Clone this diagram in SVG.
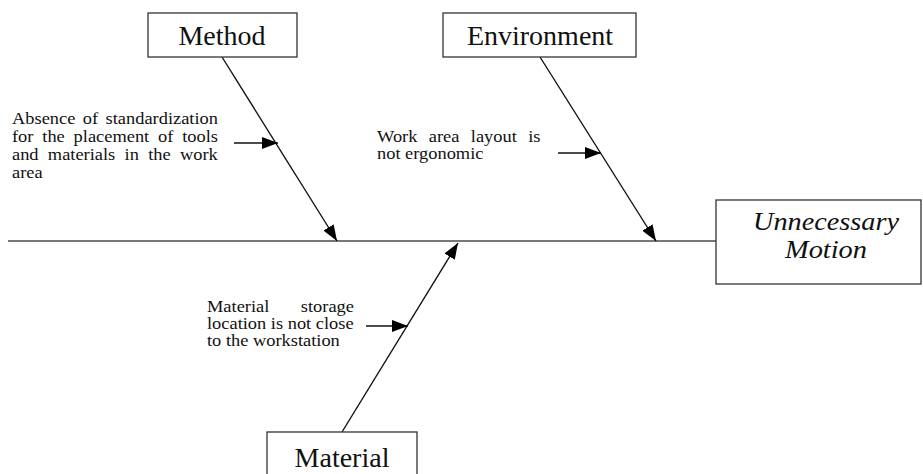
<svg xmlns="http://www.w3.org/2000/svg" width="923" height="474" viewBox="0 0 923 474">
  <style>
    .box { fill: #ffffff; stroke: #333333; stroke-width: 1.3; }
    .title { font-family: "Liberation Serif", "Times New Roman", serif; font-size: 28px; fill: #111111; text-anchor: middle; }
    .effect { font-family: "Liberation Serif", "Times New Roman", serif; font-size: 26px; font-style: italic; fill: #111111; text-anchor: middle; }
    .cause { font-family: "Liberation Serif", "Times New Roman", serif; font-size: 16px; fill: #111111; }
    .bone { stroke: #111111; stroke-width: 1.4; fill: none; marker-end: url(#head); }
    .spine { stroke: #777777; stroke-width: 2; fill: none; }
  </style>
  <defs>
    <marker id="head" viewBox="0 0 16 12" refX="16" refY="6" markerWidth="16" markerHeight="12" markerUnits="userSpaceOnUse" orient="auto">
      <path d="M0,0 L16,6 L0,12 Z" fill="#000000"/>
    </marker>
  </defs>

  <rect width="923" height="474" fill="#ffffff"/>

  <!-- connectors: spine, main bones and cause arrows -->
  <g id="connectors">
    <line class="spine" x1="8" y1="241" x2="716" y2="241"/>
    <line class="bone" x1="222" y1="57" x2="337" y2="241"/>
    <line class="bone" x1="540" y1="57" x2="656" y2="241"/>
    <line class="bone" x1="342" y1="432" x2="458" y2="243"/>
    <line class="bone" x1="234" y1="143" x2="278" y2="143"/>
    <line class="bone" x1="558" y1="153" x2="601" y2="153"/>
    <line class="bone" x1="366" y1="326" x2="408" y2="326"/>
  </g>

  <g id="method">
    <rect class="box" x="148" y="13" width="149" height="44"/>
    <text class="title" x="222" y="45">Method</text>
  </g>

  <g id="environment">
    <rect class="box" x="443" y="13" width="193" height="44"/>
    <text class="title" x="540" y="45">Environment</text>
  </g>

  <g id="material">
    <rect class="box" x="267" y="432" width="150" height="50"/>
    <text class="title" x="342" y="467">Material</text>
  </g>

  <g id="effect">
    <rect class="box" x="716" y="200" width="205" height="84"/>
    <text class="effect" x="826" y="230" textLength="146" lengthAdjust="spacingAndGlyphs">Unnecessary</text>
    <text class="effect" x="826" y="258" textLength="82" lengthAdjust="spacingAndGlyphs">Motion</text>
  </g>

  <!-- justified cause texts: glyphs widened 1.15x, word gaps set per line -->
  <g id="cause-method">
    <text class="cause" transform="translate(12,124) scale(1.15,1)" word-spacing="2.5">Absence of standardization</text>
    <text class="cause" transform="translate(12,142) scale(1.15,1)" word-spacing="3.7">for the placement of tools</text>
    <text class="cause" transform="translate(12,160) scale(1.15,1)" word-spacing="4.1">and materials in the work</text>
    <text class="cause" transform="translate(12,178) scale(1.15,1)">area</text>
  </g>

  <g id="cause-environment">
    <text class="cause" transform="translate(377,142) scale(1.15,1)" word-spacing="5.9">Work area layout is</text>
    <text class="cause" transform="translate(377,159) scale(1.15,1)">not ergonomic</text>
  </g>

  <g id="cause-material">
    <text class="cause" transform="translate(207,312) scale(1.15,1)" word-spacing="23.4">Material storage</text>
    <text class="cause" transform="translate(207,329) scale(1.15,1)">location is not close</text>
    <text class="cause" transform="translate(207,346) scale(1.15,1)">to the workstation</text>
  </g>
</svg>
